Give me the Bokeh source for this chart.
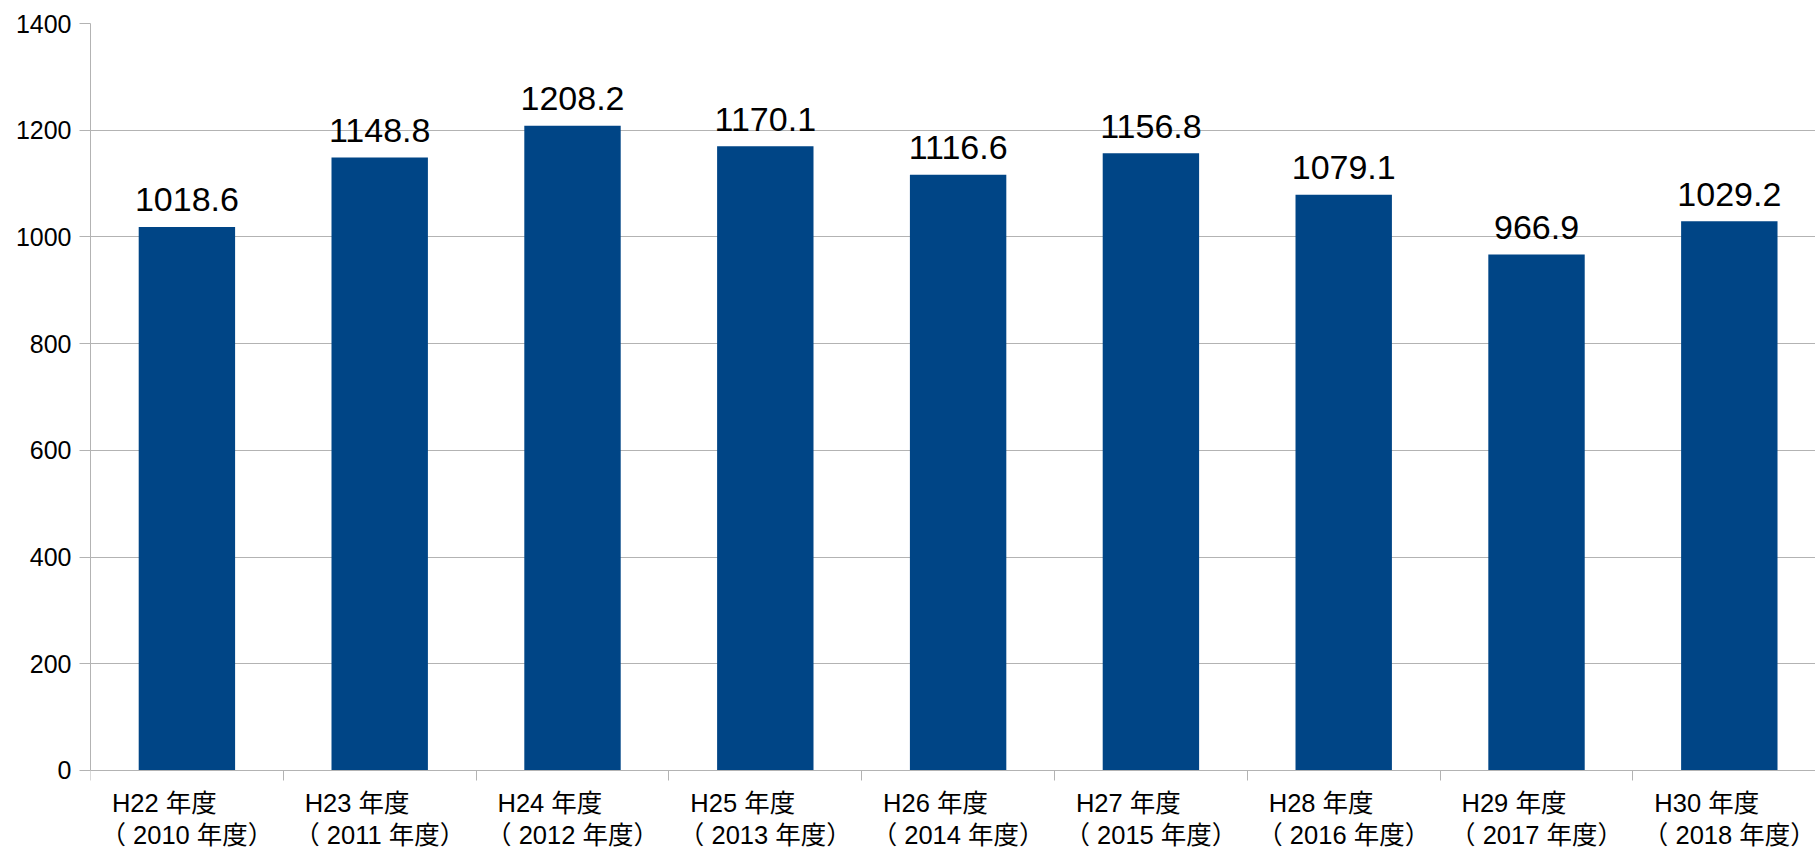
from bokeh.plotting import figure
from bokeh.models import ColumnDataSource, Range1d, FixedTicker, LinearAxis
from bokeh.core.properties import value
from bokeh.embed import file_html
from bokeh.resources import INLINE

# Fiscal years (Japanese era and Western calendar) and their values
era_years = ["H22", "H23", "H24", "H25", "H26", "H27", "H28", "H29", "H30"]
western_years = ["2010", "2011", "2012", "2013", "2014", "2015", "2016", "2017", "2018"]
values = [1018.6, 1148.8, 1208.2, 1170.1, 1116.6, 1156.8, 1079.1, 966.9, 1029.2]
y_ticks = [0, 200, 400, 600, 800, 1000, 1200, 1400]

FONT = "Liberation Sans, Noto Sans CJK JP, sans-serif"
BAR = "#004586"
GRID = "#b3b3b3"

n = len(values)
centers = [i + 0.5 for i in range(n)]
bounds = [float(i) for i in range(n + 1)]

src = ColumnDataSource(dict(
    x=centers,
    top=values,
    txt=[f"{v:.1f}" for v in values],
    base=[0] * n,
    era=[f"{e} 年度" for e in era_years],
    western=[f"（ {w} 年度）" for w in western_years],
))

# The frame runs to the bottom of the canvas; the category axis sits at y=0
# and the two-line category labels are drawn in the space below it.
p = figure(
    width=1815, height=851,
    x_range=Range1d(0, 8.947), y_range=Range1d(-152, 1400),
    x_axis_location=None,
    output_backend="svg", toolbar_location=None,
    min_border_left=90, min_border_right=0, min_border_top=23, min_border_bottom=0,
)
p.outline_line_color = None
p.background_fill_color = "white"
p.border_fill_color = "white"

p.vbar(x="x", top="top", width=0.5, bottom=0, source=src,
       fill_color=BAR, line_color=None)

# value labels above the bars
p.text(x="x", y="top", text="txt", source=src,
       text_font=value(FONT), text_font_size="34px", text_color="#000000",
       text_align="center", text_baseline="alphabetic", y_offset=-27)

# category labels: era year (left-aligned with the second line), Western year
p.text(x="x", y="base", text="era", source=src,
       text_font=value(FONT), text_font_size="25.5px", text_color="#000000",
       text_align="left", text_baseline="alphabetic", x_offset=-75, y_offset=33)
p.text(x="x", y="base", text="western", source=src,
       text_font=value(FONT), text_font_size="25.5px", text_color="#000000",
       text_align="center", text_baseline="alphabetic", y_offset=65)

# y axis
p.yaxis.ticker = FixedTicker(ticks=y_ticks)
p.yaxis.bounds = (0, 1400)
p.yaxis.axis_line_color = GRID
p.yaxis.major_tick_line_color = GRID
p.yaxis.major_tick_out = 11
p.yaxis.major_tick_in = 0
p.yaxis.minor_tick_line_color = None
p.yaxis.major_label_standoff = 8
p.yaxis.major_label_text_font = FONT
p.yaxis.major_label_text_font_size = "25px"
p.yaxis.major_label_text_color = "#000000"

# x axis at y=0 with tick marks on the category boundaries
xaxis = LinearAxis(fixed_location=0)
xaxis.ticker = FixedTicker(ticks=[], minor_ticks=bounds)
xaxis.axis_line_color = GRID
xaxis.major_tick_line_color = None
xaxis.major_label_text_font_size = "0px"
xaxis.minor_tick_line_color = GRID
xaxis.minor_tick_out = 10
xaxis.minor_tick_in = 0
p.add_layout(xaxis, "below")

p.xgrid.grid_line_color = None
p.ygrid.grid_line_color = GRID
p.ygrid.ticker = FixedTicker(ticks=y_ticks)

open("out.html", "w").write(file_html(p, INLINE))
